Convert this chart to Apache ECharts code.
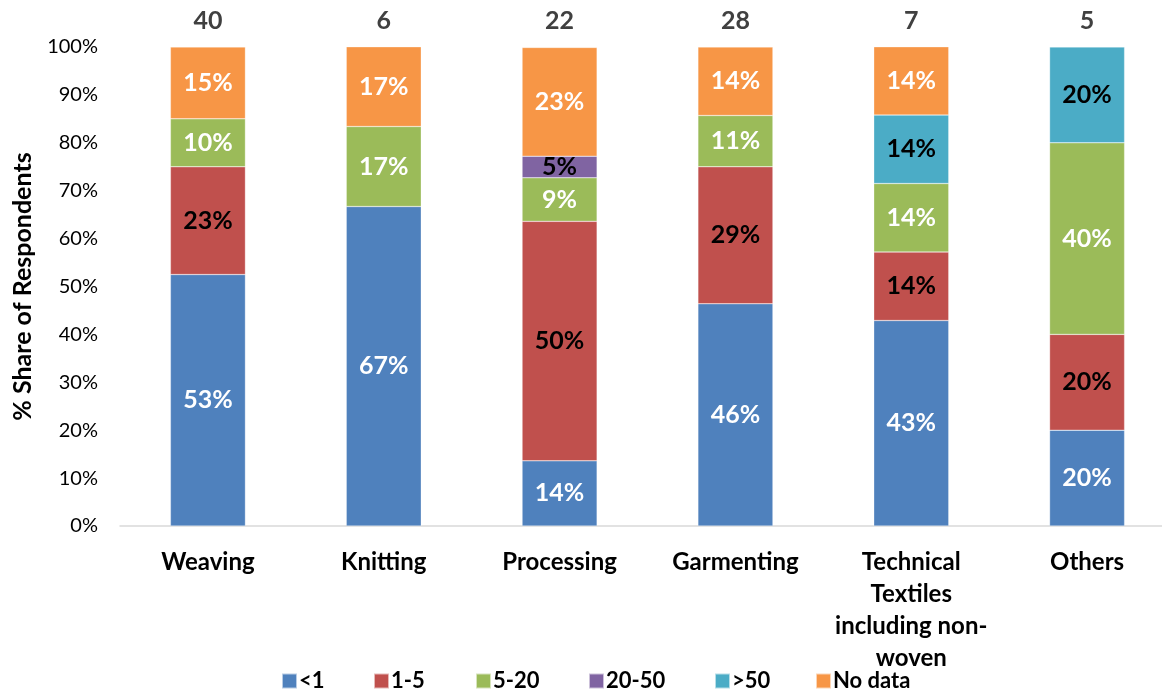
<!DOCTYPE html>
<html>
<head>
<meta charset="utf-8">
<script src="https://cdn.jsdelivr.net/npm/echarts@6/dist/echarts.min.js"></script>
<style>
html,body{margin:0;padding:0;background:#fff;overflow:hidden;}
#c{width:1175px;height:691px;}
</style>
</head>
<body>
<div id="c"></div>
<script>
const categories = ['Weaving', 'Knitting', 'Processing', 'Garmenting', 'Technical Textiles including non-woven', 'Others'];
const counts = ['40', '6', '22', '28', '7', '5'];
const seriesNames = ['<1', '1-5', '5-20', '20-50', '>50', 'No data'];
const lt1 = [52.5, 66.7, 13.6, 46.4, 42.9, 20];
const s1to5 = [22.5, null, 50, 28.6, 14.3, 20];
const s5to20 = [10, 16.7, 9.1, 10.7, 14.3, 40];
const s20to50 = [null, null, 4.5, null, null, null];
const gt50 = [null, null, null, null, 14.3, 20];
const noData = [15, 16.7, 22.7, 14.3, 14.3, null];
const yTicks = [0, 10, 20, 30, 40, 50, 60, 70, 80, 90, 100];

const colors = ['#4F81BD', '#C0504D', '#9BBB59', '#8064A2', '#4BACC6', '#F79646'];
const labelColors = ['#fff', '#000', '#fff', '#000', '#000', '#fff'];
const allData = [lt1, s1to5, s5to20, s20to50, gt50, noData];
const legendLefts = [281, 373, 475, 588, 714, 815];
const FONT = 'Lato';

const chart = echarts.init(document.getElementById('c'));
chart.setOption({
  animation: false,
  textStyle: { fontFamily: FONT },
  grid: { left: 120, right: 0, top: 47, bottom: 165, containLabel: false },
  legend: seriesNames.map((n, i) => ({
    top: 670, left: legendLefts[i], padding: 0,
    itemWidth: 15, itemHeight: 15,
    icon: 'rect',
    data: [n],
    textStyle: { fontFamily: FONT, fontWeight: 'bold', fontSize: 22, color: '#000', padding: [0, 0, 0, -3] }
  })),
  xAxis: [{
    type: 'category', data: categories,
    axisLine: { show: true, lineStyle: { color: '#D9D9D9', width: 1.5 } },
    axisTick: { show: false },
    axisLabel: {
      interval: 0, margin: 20, fontFamily: FONT, fontWeight: 'bold', fontSize: 24, color: '#000', lineHeight: 32,
      formatter: v => v === 'Technical Textiles including non-woven' ? 'Technical\nTextiles\nincluding non-\nwoven' : v
    }
  }, {
    type: 'category', data: counts, position: 'top',
    axisLine: { show: false }, axisTick: { show: false },
    axisLabel: { interval: 0, margin: 14, fontFamily: FONT, fontWeight: 'bold', fontSize: 25, color: '#404040' }
  }],
  yAxis: {
    type: 'value', min: 0, max: 100, interval: 10,
    name: '% Share of Respondents', nameLocation: 'middle', nameGap: 85,
    nameTextStyle: { fontFamily: FONT, fontWeight: 'bold', fontSize: 25, color: '#000' },
    axisLine: { show: false }, axisTick: { show: false },
    splitLine: { show: false },
    axisLabel: { margin: 22, fontFamily: FONT, fontSize: 20, color: '#000', formatter: v => yTicks.includes(v) ? v + '%' : '' }
  },
  series: seriesNames.map((name, i) => ({
    name, type: 'bar', stack: 'total', xAxisIndex: 0,
    barWidth: 75,
    data: allData[i],
    itemStyle: { color: colors[i], borderColor: 'rgba(255,255,255,0.6)', borderWidth: 0.5 },
    label: {
      show: true, position: 'inside',
      fontFamily: FONT, fontWeight: 'bold', fontSize: 25, color: labelColors[i],
      formatter: p => p.value == null ? '' : Math.round(p.value) + '%'
    }
  }))
});
</script>
</body>
</html>
